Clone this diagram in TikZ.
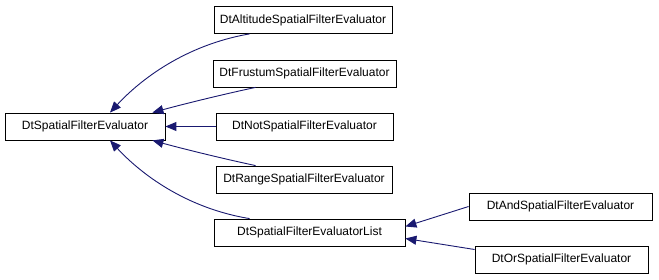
\documentclass[tikz,border=0pt]{standalone}
\usepackage{fontspec}
\setmainfont{Liberation Sans}
\usetikzlibrary{arrows.meta}
\definecolor{edgeblue}{HTML}{191970}
\begin{document}
\begin{tikzpicture}[x=1pt,y=-1pt,
    cls/.style={draw, thick, rectangle, minimum height=27pt, inner sep=0pt, font=\fontsize{12}{14}\selectfont},
    inh/.style={edgeblue, line width=0.9pt, -{Triangle[length=11pt,width=9pt]}}]
        \useasboundingbox (0,0) rectangle (659,280);
        % Base class
        \node[cls, minimum width=160pt] (base) at (85,126.5) {DtSpatialFilterEvaluator};
        % Derived classes
        \node[cls, minimum width=178pt] (alt) at (303,20) {DtAltitudeSpatialFilterEvaluator};
        \node[cls, minimum width=183pt] (frus) at (304.5,73.5) {DtFrustumSpatialFilterEvaluator};
        \node[cls, minimum width=177pt] (not) at (304.5,126.5) {DtNotSpatialFilterEvaluator};
        \node[cls, minimum width=176pt] (range) at (304,179.5) {DtRangeSpatialFilterEvaluator};
        \node[cls, minimum width=191pt] (list) at (309.5,232.5) {DtSpatialFilterEvaluatorList};
        % Derived from the list
        \node[cls, minimum width=183pt] (and) at (560.5,206.5) {DtAndSpatialFilterEvaluator};
        \node[cls, minimum width=173pt] (or) at (561.5,259.5) {DtOrSpatialFilterEvaluator};
        % Connections
        \draw[inh] ([xshift=36]alt.south west) .. controls (185,45) and (140,80) .. ([xshift=25]base.north);
        \draw[inh] ([xshift=43]frus.south west) .. controls (220,95) and (180,105) .. ([xshift=-13]base.north east);
        \draw[inh] (not.west) -- (base.east);
        \draw[inh] ([xshift=40]range.north west) .. controls (220,158) and (180,148) .. ([xshift=-13]base.south east);
        \draw[inh] ([xshift=36]list.north west) .. controls (185,208) and (140,173) .. ([xshift=25]base.south);
        \draw[inh] (and.west) -- ([yshift=6]list.east);
        \draw[inh] ([yshift=10]or.west) -- ([yshift=-6]list.east);
\end{tikzpicture}
\end{document}
